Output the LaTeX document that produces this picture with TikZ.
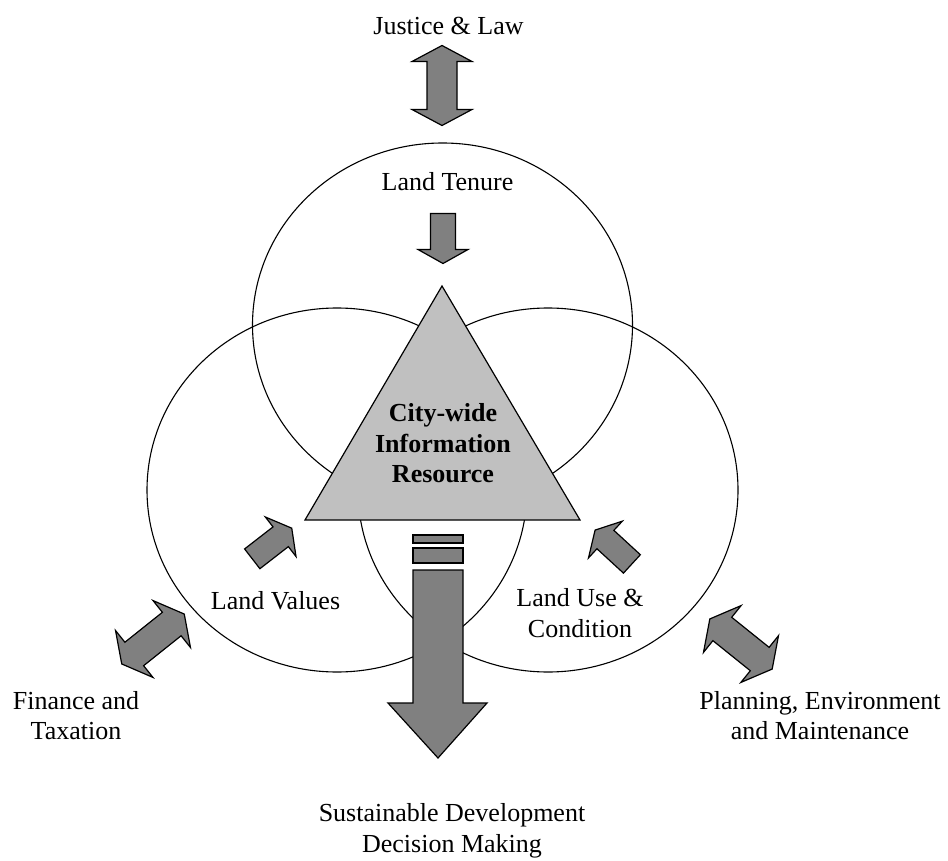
\documentclass[tikz,border=0pt]{standalone}
\usepackage{fontspec}
\setmainfont{Liberation Serif}
\usepackage{tikz}
\definecolor{arrowgray}{HTML}{808080}
\definecolor{resourcegray}{HTML}{C0C0C0}
\tikzset{
  ring/.style={draw,line width=1.1pt},
  blockfill/.style={draw,line width=1.2pt,fill=arrowgray,line join=miter},
  landtext/.style={font=\fontsize{26}{30.5}\selectfont,align=center,inner sep=0pt},
  pics/twoway/.style={code={\draw[blockfill] (-40,0) -- (-24,-30) -- (-24,-15) -- (24,-15) -- (24,-30) -- (40,0) -- (24,30) -- (24,15) -- (-24,15) -- (-24,30) -- cycle;}},
  pics/oneway/.style={code={\draw[blockfill] (-25,-12.5) -- (11,-12.5) -- (11,-25) -- (25,0) -- (11,25) -- (11,12.5) -- (-25,12.5) -- cycle;}}
}

\begin{document}
\begin{tikzpicture}[x=1pt,y=-1pt]
  \useasboundingbox (0,0) rectangle (948,861);
  %circles
  \draw[ring] (442.5,325) ellipse [x radius=190pt,y radius=182pt];
  \draw[ring] (337,490) ellipse [x radius=190pt,y radius=182pt];
  \draw[ring] (548,490) ellipse [x radius=190pt,y radius=182pt];

  %triangle
  \draw[line width=1.2pt,fill=resourcegray] (442,286) -- (580,520) -- (305,520) -- cycle;
  \node[landtext,font=\fontsize{26}{30.5}\selectfont\bfseries] (resource) at (443,443.5) {City-wide\\Information\\Resource};

  %top
  \node[landtext,anchor=base] (justice) at (448.5,35) {Justice \& Law};
  \pic[rotate=90] (justicearrow) at (442,85.5) {twoway};
  \node[landtext,anchor=base] (tenure) at (447.5,191) {Land Tenure};
  \pic[rotate=-90] (tenurearrow) at (443,238.5) {oneway};

  %left
  \pic[rotate=37.8] (valuesarrow) at (272,543.5) {oneway};
  \node[landtext,anchor=base] (values) at (275.5,609) {Land Values};
  \pic[rotate=38.6] (financearrow) at (153,639) {twoway};
  \node[landtext] (finance) at (76,715.5) {Finance and\\Taxation};

  %right
  \pic[rotate=137.4] (usearrow) at (613.5,547) {oneway};
  \node[landtext] (use) at (580,613) {Land Use \&\\Condition};
  \pic[rotate=-38.8] (planningarrow) at (741,644) {twoway};
  \node[landtext] (planning) at (820,715.5) {Planning, Environment\\and Maintenance};

  %bottom
  \draw[blockfill] (413,535) rectangle (463,543);
  \draw[blockfill] (413,548) rectangle (463,563);
  \draw[blockfill] (413,570) -- (463,570) -- (463,703) -- (487,703) -- (438,758) -- (388,703) -- (413,703) -- cycle;
  \node[landtext] (decision) at (452,831) {Sustainable Development\\Decision Making};
\end{tikzpicture}
\end{document}
